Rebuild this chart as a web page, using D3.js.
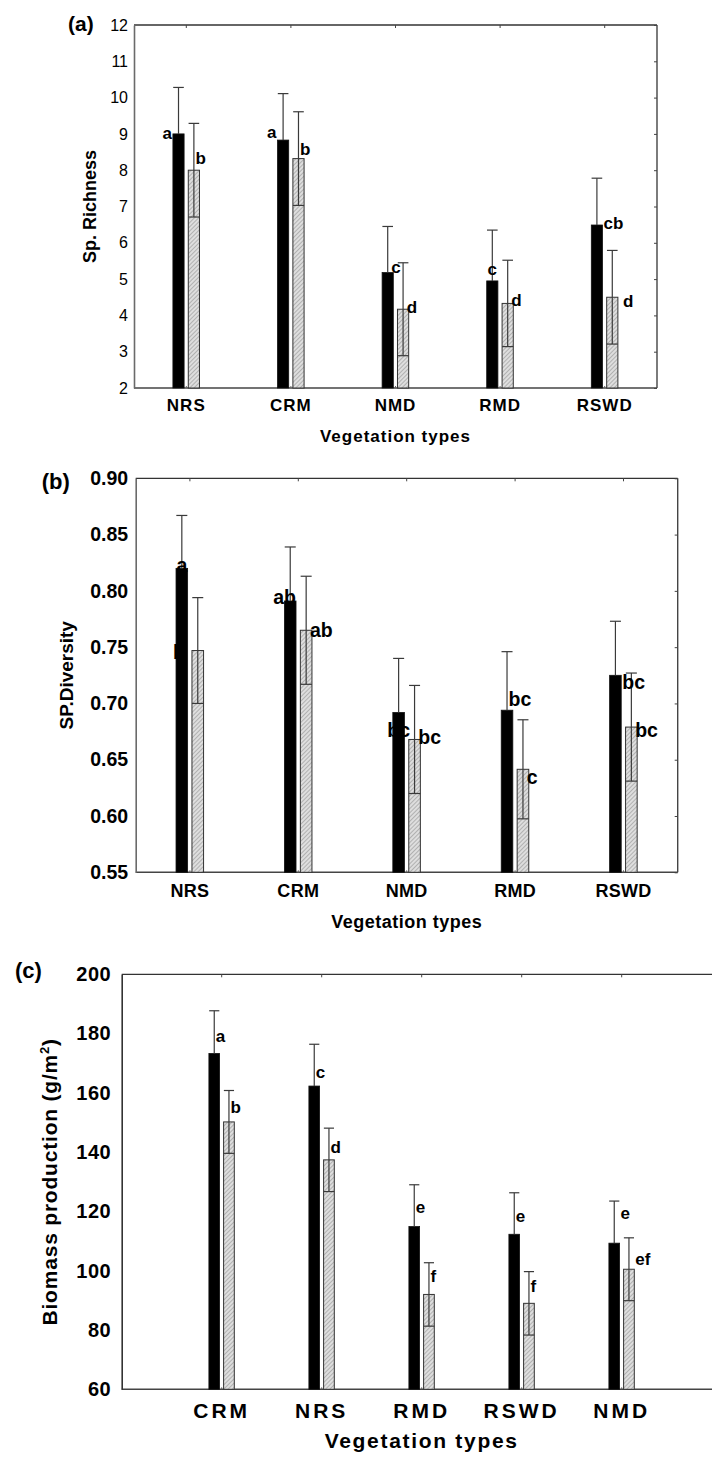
<!DOCTYPE html>
<html><head><meta charset="utf-8">
<script src="https://cdn.jsdelivr.net/npm/d3@7"></script>
<style>
body{margin:0;background:#fff;}
text{font-family:"Liberation Sans",Arial,sans-serif;fill:#000;}
</style></head>
<body>
<script>
// ---------- DATA ----------
// Panel (a) Species richness
const catsA = ["NRS","CRM","NMD","RMD","RSWD"];
const blackA = [9.0, 8.83, 5.18, 4.95, 6.49];
const blackSeA = [1.28, 1.28, 1.27, 1.40, 1.29];
const hatchA = [8.0, 8.32, 4.17, 4.33, 4.5];
const hatchSeA = [1.29, 1.29, 1.28, 1.19, 1.29];
const ticksA = [2,3,4,5,6,7,8,9,10,11,12];
const letBlackA = ["a","a","c","c","cb"];
const letHatchA = ["b","b","d","d","d"];
const letValBlackA = [8.85, 8.9, 5.16, 5.11, 6.38];
const letValHatchA = [8.17, 8.42, 4.06, 4.26, 4.24];
const placeBlackA = ["L","L","Rm","C","R"];
const placeHatchA = ["E","E","Rm","Rm","RR"];

// Panel (b) Species diversity
const catsB = ["NRS","CRM","NMD","RMD","RSWD"];
const blackB = [0.820, 0.791, 0.692, 0.694, 0.725];
const blackSeB = [0.047, 0.048, 0.048, 0.052, 0.048];
const hatchB = [0.747, 0.765, 0.668, 0.6415, 0.679];
const hatchSeB = [0.047, 0.048, 0.048, 0.044, 0.048];
const ticksB = [0.55,0.60,0.65,0.70,0.75,0.80,0.85,0.90];
const letBlackB = ["a","ab","bc","bc","bc"];
const letHatchB = ["b","ab","bc","c","bc"];
const letValBlackB = [0.817, 0.788, 0.670, 0.698, 0.7126];
const letValHatchB = [0.7395, 0.7593, 0.664, 0.6284, 0.6705];
const placeBlackB = ["C","B","C","E","R"];
const placeHatchB = ["HB","Rm","Rm","Rm","Rm"];

// Panel (c) Biomass production
const catsC = ["CRM","NRS","RMD","RSWD","NMD"];
const blackC = [173.3, 162.3, 114.9, 112.3, 109.3];
const blackSeC = [14.4, 14.1, 14.1, 14.0, 14.2];
const hatchC = [150.2, 137.4, 92.0, 89.0, 100.5];
const hatchSeC = [10.6, 10.7, 10.7, 10.7, 10.6];
const ticksC = [60,80,100,120,140,160,180,200];
const letBlackC = ["a","c","e","e","e"];
const letHatchC = ["b","d","f","f","ef"];
const letValBlackC = [177.3, 165.0, 119.4, 116.6, 117.4];
const letValHatchC = [153.3, 139.8, 96.3, 92.9, 101.9];
const placeBlackC = ["E","E","E","E","R"];
const placeHatchC = ["E","E","E","E","R"];

// ---------- DRAW ----------
const svg = d3.select("body").append("svg").attr("width",712).attr("height",1461);
const defs = svg.append("defs");
const pat = defs.append("pattern").attr("id","hatch").attr("width",3).attr("height",3)
  .attr("patternUnits","userSpaceOnUse").attr("patternTransform","rotate(45)");
pat.append("rect").attr("width",3).attr("height",3).attr("fill","#dedede");
pat.append("line").attr("x1",0).attr("y1",0).attr("x2",0).attr("y2",3).attr("stroke","#8c8c8c").attr("stroke-width",1.1);

function drawPanel(p){
  const g = svg.append("g");
  const x = d3.scaleBand().domain(p.cats).range(p.xRange).padding(0);
  const step = x.step();
  const cx = c => x(c) + step/2;
  const y = d3.scaleLinear().domain(p.yDomain).range([p.bottom, p.top]);
  const bw = 0.107*step;
  const bxBlack = c => cx(c) - 0.128*step;
  const bxHatch = c => cx(c) + 0.019*step;

  // frame lines
  g.append("line").attr("x1",p.left).attr("x2",p.frameRight).attr("y1",p.top).attr("y2",p.top)
    .attr("stroke","#333").attr("stroke-width",1.3);
  g.append("line").attr("x1",p.left).attr("x2",p.frameRight).attr("y1",p.bottom).attr("y2",p.bottom)
    .attr("stroke","#444").attr("stroke-width",1.4);
  if(p.rightBorder){
    g.append("line").attr("x1",p.frameRight).attr("x2",p.frameRight).attr("y1",p.top).attr("y2",p.bottom)
      .attr("stroke","#444").attr("stroke-width",1.4);
    const ra = g.append("g").attr("transform",`translate(${p.frameRight},0)`)
      .call(d3.axisLeft(y).tickValues(p.ticks).tickSize(3).tickFormat(""));
    ra.select(".domain").remove();
    ra.selectAll("line").attr("stroke","#444");
  }
  // top ticks
  const ta = g.append("g").attr("transform",`translate(0,${p.top})`)
    .call(d3.axisBottom(x).tickSize(3).tickFormat(""));
  ta.select(".domain").remove();
  ta.selectAll("line").attr("stroke","#444");
  // bottom small ticks
  const ba = g.append("g").attr("transform",`translate(0,${p.bottom})`)
    .call(d3.axisTop(x).tickSize(2).tickFormat(""));
  ba.select(".domain").remove();
  ba.selectAll("line").attr("stroke","#666");

  // left axis
  const la = g.append("g").attr("transform",`translate(${p.left},0)`)
    .call(d3.axisLeft(y).tickValues(p.ticks).tickSize(0).tickPadding(p.tickPad).tickFormat(p.fmt));
  la.select(".domain").attr("stroke",p.leftColor).attr("stroke-width",1.6);
  la.selectAll("text").attr("font-size",p.tickFs).attr("font-weight",p.tickWeight)
    .attr("letter-spacing",p.tickLs).attr("fill","#000")
    .style("font-family",'"Liberation Sans",Arial,sans-serif');

  // category labels
  const ca = g.append("g").attr("transform",`translate(0,${p.bottom})`)
    .call(d3.axisBottom(x).tickSize(0));
  ca.select(".domain").remove();
  ca.selectAll("text").attr("y",p.catOff).attr("dy",null).attr("font-size",p.catFs)
    .attr("font-weight","bold").attr("letter-spacing",p.catLs).attr("fill","#000")
    .style("font-family",'"Liberation Sans",Arial,sans-serif');

  // bars
  const rows = p.cats.map((c,i)=>({c, b:p.black[i], bs:p.blackSe[i], h:p.hatch[i], hs:p.hatchSe[i],
    lb:p.letBlack[i], lh:p.letHatch[i], vb:p.letValBlack[i], vh:p.letValHatch[i],
    pb:p.placeBlack[i], ph:p.placeHatch[i]}));
  g.selectAll(".bb").data(rows).join("rect").attr("class","bb")
    .attr("x",d=>bxBlack(d.c)).attr("width",bw)
    .attr("y",d=>y(d.b)).attr("height",d=>p.bottom-y(d.b))
    .attr("fill","#000").attr("stroke","#111").attr("stroke-width",0.8);
  g.selectAll(".hb").data(rows).join("rect").attr("class","hb")
    .attr("x",d=>bxHatch(d.c)).attr("width",bw)
    .attr("y",d=>y(d.h)).attr("height",d=>p.bottom-y(d.h))
    .attr("fill","url(#hatch)").attr("stroke","#333").attr("stroke-width",1);

  // error bars
  const cap = bw*0.95;
  rows.forEach(d=>{
    const xb = bxBlack(d.c)+bw/2, xh = bxHatch(d.c)+bw/2;
    const eg = g.append("g").attr("stroke","#3a3a3a").attr("stroke-width",1.2);
    eg.append("line").attr("x1",xb).attr("x2",xb).attr("y1",y(d.b)).attr("y2",y(d.b+d.bs));
    eg.append("line").attr("x1",xb-cap/2).attr("x2",xb+cap/2).attr("y1",y(d.b+d.bs)).attr("y2",y(d.b+d.bs));
    eg.append("line").attr("x1",xh).attr("x2",xh).attr("y1",y(d.h-d.hs)).attr("y2",y(d.h+d.hs));
    eg.append("line").attr("x1",xh-cap/2).attr("x2",xh+cap/2).attr("y1",y(d.h+d.hs)).attr("y2",y(d.h+d.hs));
    eg.append("line").attr("x1",bxHatch(d.c)).attr("x2",bxHatch(d.c)+bw).attr("y1",y(d.h-d.hs)).attr("y2",y(d.h-d.hs));
  });

  // letters
  function place(code, left, blackLeft){
    const right = left+bw, mid = left+bw/2;
    switch(code){
      case "L": return [left-1,"end"];
      case "C": return [mid,"middle"];
      case "E": return [mid+1.5,"start"];
      case "R": return [right+1,"start"];
      case "Rm": return [right-2,"start"];
      case "RR": return [right+5,"start"];
      case "B": return [right,"end"];
      case "HB": return [blackLeft-3,"start"];
    }
  }
  rows.forEach(d=>{
    [[d.lb,d.vb,d.pb,bxBlack(d.c)],[d.lh,d.vh,d.ph,bxHatch(d.c)]].forEach(([t,v,pc,l])=>{
      const [tx,anc] = place(pc,l,bxBlack(d.c));
      g.append("text").attr("x",tx).attr("y",y(v)).attr("text-anchor",anc)
        .attr("font-size",p.letFs).attr("font-weight","bold").text(t);
    });
  });

  // titles
  g.append("text").attr("x",p.xtX).attr("y",p.xtY).attr("text-anchor","middle")
    .attr("font-size",p.xtFs).attr("font-weight","bold").attr("letter-spacing",p.xtLs)
    .text("Vegetation types");
  const yt = g.append("text").attr("transform",`translate(${p.ytX},${(p.top+p.bottom)/2}) rotate(-90)`)
    .attr("text-anchor","middle").attr("font-size",p.ytFs).attr("font-weight","bold")
    .attr("letter-spacing",p.ytLs);
  if(p.ytSup){
    yt.append("tspan").text(p.ytText);
    yt.append("tspan").attr("dy",-8).attr("font-size",p.ytFs*0.62).text(p.ytSup);
    yt.append("tspan").attr("dy",8).text(")");
  } else yt.text(p.ytText);
  g.append("text").attr("x",p.plX).attr("y",p.plY).attr("font-size",p.plFs)
    .attr("font-weight","bold").text(p.pl);
}

drawPanel({cats:catsA, black:blackA, blackSe:blackSeA, hatch:hatchA, hatchSe:hatchSeA,
  letBlack:letBlackA, letHatch:letHatchA, letValBlack:letValBlackA, letValHatch:letValHatchA,
  placeBlack:placeBlackA, placeHatch:placeHatchA,
  ticks:ticksA, fmt:d3.format("d"), yDomain:[2,12],
  left:134, frameRight:657, xRange:[134,657], top:25, bottom:388, rightBorder:true,
  leftColor:"#6a6a6a", tickPad:6, tickFs:16, tickWeight:"normal", tickLs:0,
  catOff:23, catFs:17, catLs:1, letFs:17,
  xtX:395.5, xtY:442, xtFs:17, xtLs:1,
  ytX:96, ytFs:18, ytLs:0, ytText:"Sp. Richness",
  pl:"(a)", plX:68, plY:31, plFs:21});

drawPanel({cats:catsB, black:blackB, blackSe:blackSeB, hatch:hatchB, hatchSe:hatchSeB,
  letBlack:letBlackB, letHatch:letHatchB, letValBlack:letValBlackB, letValHatch:letValHatchB,
  placeBlack:placeBlackB, placeHatch:placeHatchB,
  ticks:ticksB, fmt:d3.format(".2f"), yDomain:[0.55,0.90],
  left:135.7, frameRight:677.7, xRange:[135.7,677.7], top:478.3, bottom:872.3, rightBorder:true,
  leftColor:"#6a6a6a", tickPad:7.5, tickFs:19.5, tickWeight:"bold", tickLs:0,
  catOff:24.7, catFs:18, catLs:0.3, letFs:19.5,
  xtX:406.7, xtY:928, xtFs:18, xtLs:0.5,
  ytX:73, ytFs:19, ytLs:0, ytText:"SP.Diversity",
  pl:"(b)", plX:41.7, plY:489, plFs:22});

drawPanel({cats:catsC, black:blackC, blackSe:blackSeC, hatch:hatchC, hatchSe:hatchSeC,
  letBlack:letBlackC, letHatch:letHatchC, letValBlack:letValBlackC, letValHatch:letValHatchC,
  placeBlack:placeBlackC, placeHatch:placeHatchC,
  ticks:ticksC, fmt:d3.format("d"), yDomain:[60,200],
  left:121.7, frameRight:712, xRange:[171.7,671.7], top:974.3, bottom:1389.3, rightBorder:false,
  leftColor:"#333", tickPad:10.5, tickFs:20, tickWeight:"bold", tickLs:0.5,
  catOff:29, catFs:21, catLs:3, letFs:17,
  xtX:421.7, xtY:1448, xtFs:21, xtLs:1.7,
  ytX:56.5, ytFs:21, ytLs:0.8, ytText:"Biomass production (g/m", ytSup:"2",
  pl:"(c)", plX:15, plY:978, plFs:22});
</script>
</body></html>
